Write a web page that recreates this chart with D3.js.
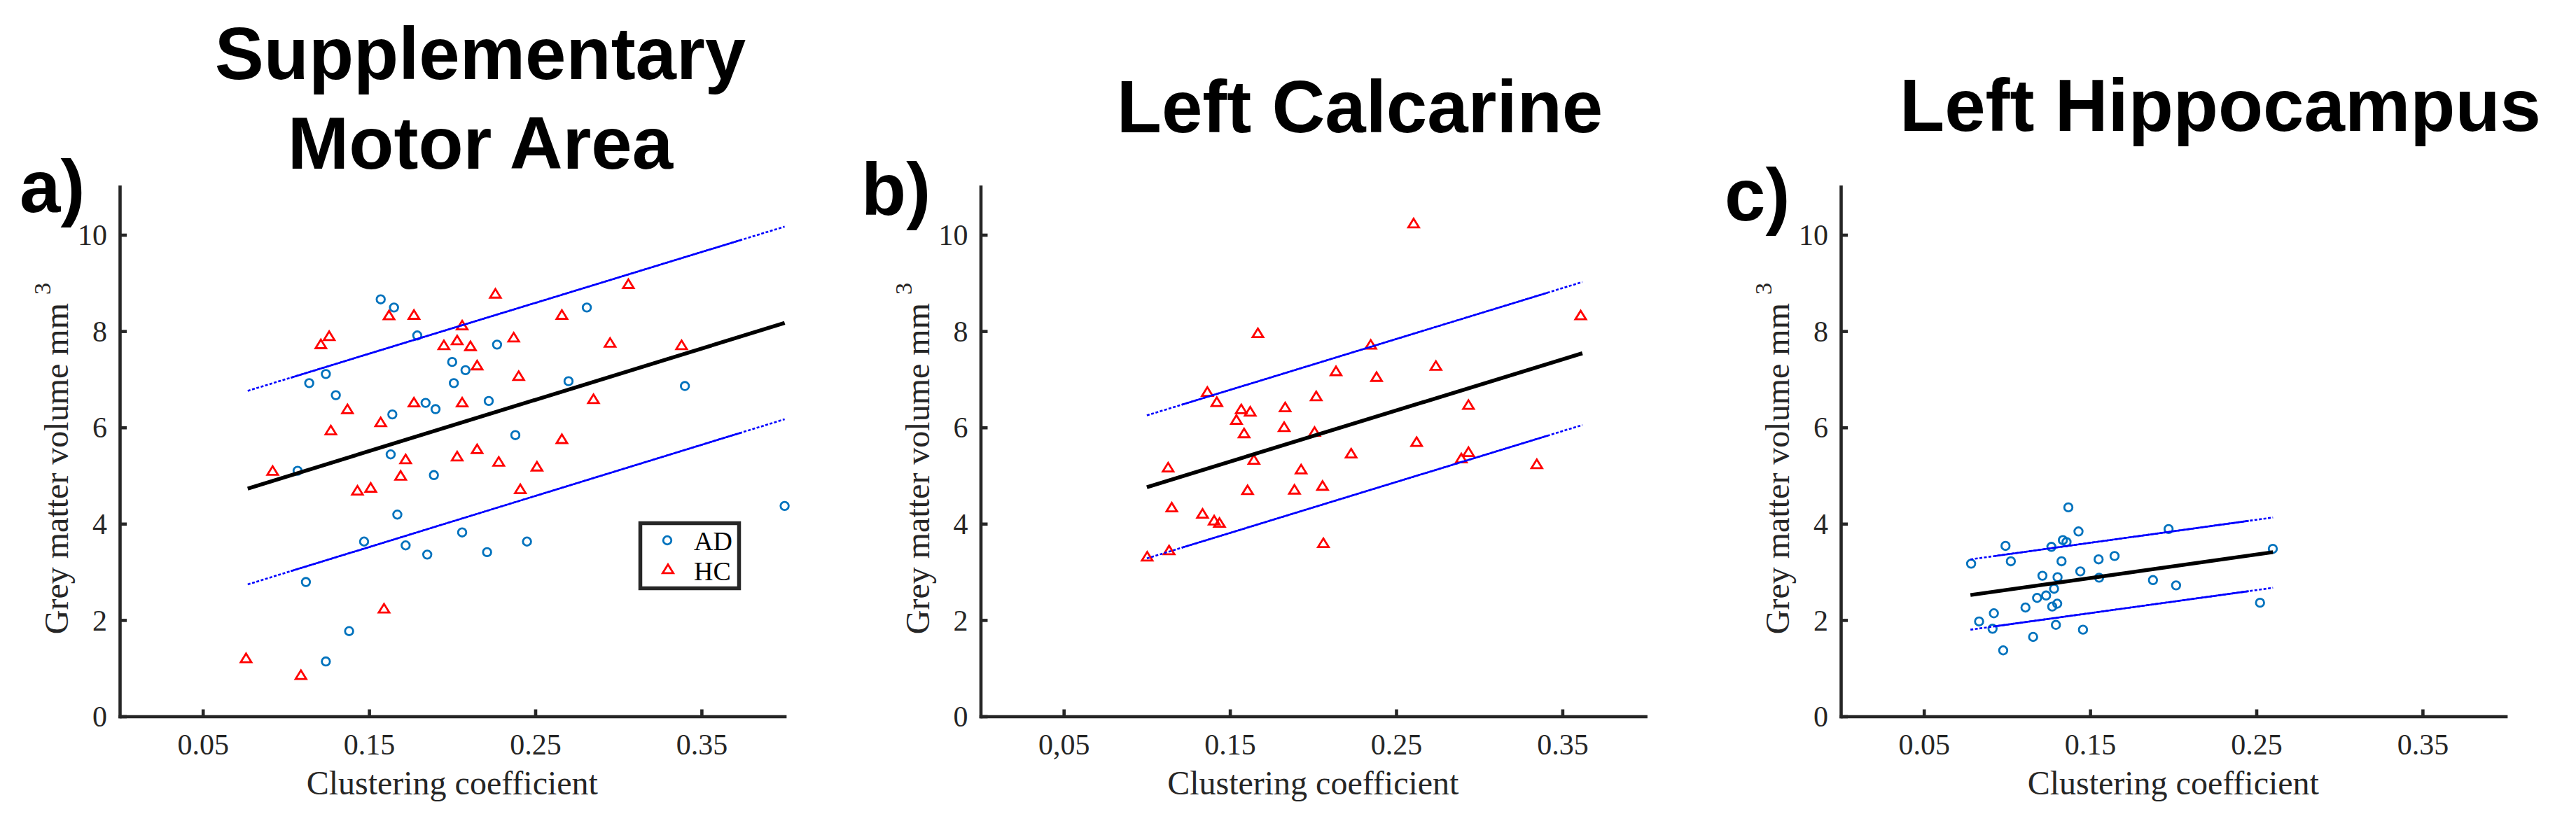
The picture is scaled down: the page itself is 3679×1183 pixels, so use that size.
<!DOCTYPE html>
<html>
<head>
<meta charset="utf-8">
<script src="https://cdn.jsdelivr.net/npm/d3@7"></script>
<style>
  html, body { margin: 0; padding: 0; background: #fff; }
  svg { display: block; }
</style>
</head>
<body>
<svg id="chart"></svg>
<script>
// Axis ticks
const xTicks = [0.05, 0.15, 0.25, 0.35];
const xTickLabelsA = ['0.05', '0.15', '0.25', '0.35'];
const xTickLabelsB = ['0,05', '0.15', '0.25', '0.35'];
const xTickLabelsC = ['0.05', '0.15', '0.25', '0.35'];
const yTicks = [0, 2, 4, 6, 8, 10];

const panelLetters = ['a)', 'b)', 'c)'];
const panelTitles = [['Supplementary', 'Motor Area'], ['Left Calcarine'], ['Left Hippocampus']];
const xLabel = 'Clustering coefficient';
const yLabel = 'Grey matter volume mm';
const legendLabels = ['AD', 'HC'];

// a) Supplementary Motor Area
const smaAD = [
  [0.157, 8.66], [0.165, 8.49], [0.179, 7.91], [0.281, 8.49], [0.227, 7.72],
  [0.200, 7.36], [0.208, 7.19], [0.124, 7.11], [0.114, 6.92], [0.201, 6.92],
  [0.270, 6.96], [0.340, 6.86], [0.130, 6.67], [0.184, 6.51], [0.190, 6.38],
  [0.222, 6.55], [0.164, 6.27], [0.107, 5.10], [0.163, 5.44], [0.238, 5.84],
  [0.189, 5.01], [0.167, 4.19], [0.147, 3.63], [0.172, 3.55], [0.206, 3.82],
  [0.185, 3.36], [0.221, 3.41], [0.245, 3.63], [0.400, 4.37], [0.112, 2.79],
  [0.138, 1.77], [0.124, 1.14]
];
const smaHC = [
  [0.306, 8.98], [0.226, 8.78], [0.162, 8.33], [0.177, 8.34], [0.266, 8.34],
  [0.206, 8.12], [0.126, 7.90], [0.121, 7.73], [0.237, 7.87], [0.195, 7.71],
  [0.203, 7.81], [0.211, 7.69], [0.295, 7.76], [0.338, 7.71], [0.215, 7.29],
  [0.240, 7.07], [0.285, 6.59], [0.177, 6.52], [0.206, 6.52], [0.137, 6.38],
  [0.127, 5.94], [0.157, 6.11], [0.092, 5.10], [0.172, 5.34], [0.169, 5.00],
  [0.143, 4.69], [0.151, 4.75], [0.203, 5.40], [0.215, 5.55], [0.228, 5.29],
  [0.251, 5.19], [0.266, 5.76], [0.241, 4.72], [0.159, 2.24], [0.076, 1.21],
  [0.109, 0.86]
];
const smaFit = [[0.077, 4.73], [0.400, 8.17]];
const smaUpper = [[0.077, 6.76], [0.400, 10.17]];
const smaLower = [[0.077, 2.74], [0.400, 6.17]];

// b) Left Calcarine
const calcHC = [
  [0.2605, 10.24], [0.1668, 7.96], [0.2347, 7.72], [0.2138, 7.17], [0.2382, 7.05],
  [0.2739, 7.28], [0.1364, 6.74], [0.1421, 6.53], [0.1568, 6.38], [0.1622, 6.33],
  [0.1832, 6.42], [0.2019, 6.65], [0.2935, 6.47], [0.1539, 6.16], [0.1585, 5.88],
  [0.1826, 6.01], [0.2009, 5.91], [0.2623, 5.70], [0.2229, 5.46], [0.2892, 5.36],
  [0.2935, 5.49], [0.3346, 5.24], [0.1128, 5.17], [0.1644, 5.33], [0.1928, 5.13],
  [0.1606, 4.70], [0.1888, 4.71], [0.2057, 4.79], [0.1150, 4.34], [0.1335, 4.21],
  [0.1405, 4.07], [0.1437, 4.02], [0.2062, 3.60], [0.1134, 3.45], [0.1002, 3.32],
  [0.3610, 8.33]
];
const calcFit = [[0.100, 4.76], [0.362, 7.54]];
const calcUpper = [[0.100, 6.25], [0.362, 9.02]];
const calcLower = [[0.100, 3.28], [0.362, 6.05]];

// c) Left Hippocampus
const hippAD = [
  [0.1369, 4.34], [0.1430, 3.84], [0.1972, 3.89], [0.0991, 3.54], [0.1267, 3.52],
  [0.1336, 3.66], [0.1358, 3.62], [0.2599, 3.48], [0.0784, 3.17], [0.1023, 3.22],
  [0.1328, 3.22], [0.1551, 3.26], [0.1647, 3.33], [0.1441, 3.01], [0.1213, 2.92],
  [0.1304, 2.89], [0.1554, 2.88], [0.1878, 2.83], [0.2017, 2.72], [0.1283, 2.65],
  [0.1235, 2.51], [0.1181, 2.46], [0.1111, 2.26], [0.1272, 2.28], [0.1302, 2.34],
  [0.2522, 2.36], [0.0921, 2.14], [0.0832, 1.97], [0.0913, 1.82], [0.1294, 1.90],
  [0.1457, 1.80], [0.1157, 1.65], [0.0977, 1.37]
];
const hippFit = [[0.078, 2.52], [0.260, 3.41]];
const hippUpper = [[0.078, 3.26], [0.260, 4.13]];
const hippLower = [[0.078, 1.80], [0.260, 2.67]];

// Layout
const W = 3679, H = 1183;
const axisColor = '#262626';
const adColor = '#0072BD';
const hcColor = '#FF0000';
const bandColor = '#0000FF';
const serif = '"Liberation Serif", "Times New Roman", serif';
const sans = '"Liberation Sans", Arial, sans-serif';

const svg = d3.select('#chart').attr('width', W).attr('height', H);
svg.append('rect').attr('width', W).attr('height', H).attr('fill', '#fff');

const panels = [
  {
    left: 171, letter: panelLetters[0], letterX: 28, letterY: 303,
    title: panelTitles[0], titleX: 686, titleY: [113, 241],
    tickLabels: xTickLabelsA, ad: smaAD, hc: smaHC,
    fit: smaFit, upper: smaUpper, lower: smaLower, legend: true
  },
  {
    left: 1400.5, letter: panelLetters[1], letterX: 1230, letterY: 307,
    title: panelTitles[1], titleX: 1942, titleY: [189],
    tickLabels: xTickLabelsB, ad: [], hc: calcHC,
    fit: calcFit, upper: calcUpper, lower: calcLower, legend: false
  },
  {
    left: 2629, letter: panelLetters[2], letterX: 2463, letterY: 315,
    title: panelTitles[2], titleX: 3171, titleY: [187],
    tickLabels: xTickLabelsC, ad: hippAD, hc: [],
    fit: hippFit, upper: hippUpper, lower: hippLower, legend: false
  }
];

const axisWidth = 949.6;
const yBottom = 1023.5;
const yTop = 266.7;

const trianglePath = 'M0,-6.5L7.6,5.8L-7.6,5.8Z';

panels.forEach(drawPanel);

function drawPanel(p) {
  const x = d3.scaleLinear().domain([0, 0.4]).range([p.left, p.left + axisWidth]);
  const y = d3.scaleLinear().domain([0, 11]).range([yBottom, yTop]);
  const g = svg.append('g');

  // markers
  g.selectAll('.ad')
    .data(p.ad)
    .enter()
    .append('circle')
    .attr('cx', (d) => x(d[0]))
    .attr('cy', (d) => y(d[1]))
    .attr('r', 5.8)
    .attr('fill', 'none')
    .attr('stroke', adColor)
    .attr('stroke-width', 2.8);

  g.selectAll('.hc')
    .data(p.hc)
    .enter()
    .append('path')
    .attr('d', trianglePath)
    .attr('transform', (d) => `translate(${x(d[0])},${y(d[1])})`)
    .attr('fill', 'none')
    .attr('stroke', hcColor)
    .attr('stroke-width', 2.8)
    .attr('stroke-linejoin', 'miter');

  // prediction band lines: solid middle, dotted ends
  [p.upper, p.lower].forEach((seg) => {
    const x0 = seg[0][0], x1 = seg[1][0];
    const y0 = seg[0][1], y1 = seg[1][1];
    const cut = 0.08;
    const xa = x0 + (x1 - x0) * cut, xb = x1 - (x1 - x0) * cut;
    const ya = y0 + (y1 - y0) * cut, yb = y1 - (y1 - y0) * cut;
    g.append('line')
      .attr('x1', x(x0)).attr('y1', y(y0))
      .attr('x2', x(x1)).attr('y2', y(y1))
      .attr('stroke', bandColor)
      .attr('stroke-width', 2.6)
      .attr('stroke-dasharray', '4,2.5');
    g.append('line')
      .attr('x1', x(xa)).attr('y1', y(ya))
      .attr('x2', x(xb)).attr('y2', y(yb))
      .attr('stroke', bandColor)
      .attr('stroke-width', 2.6);
  });

  // regression line
  g.append('line')
    .attr('x1', x(p.fit[0][0])).attr('y1', y(p.fit[0][1]))
    .attr('x2', x(p.fit[1][0])).attr('y2', y(p.fit[1][1]))
    .attr('stroke', '#000')
    .attr('stroke-width', 5.5);

  // axes
  const xAxis = d3.axisBottom(x)
    .tickValues(xTicks)
    .tickSizeInner(-10)
    .tickSizeOuter(0)
    .tickFormat((d, i) => p.tickLabels[i]);
  const gx = g.append('g').attr('transform', `translate(0,${yBottom})`).call(xAxis);

  const yAxis = d3.axisLeft(y)
    .tickValues(yTicks)
    .tickSizeInner(-10)
    .tickSizeOuter(0)
    .tickFormat(d3.format('d'));
  const gy = g.append('g').attr('transform', `translate(${p.left},0)`).call(yAxis);

  [gx, gy].forEach((ax) => {
    ax.select('.domain')
      .attr('stroke', axisColor)
      .attr('stroke-width', 4.6)
      .attr('stroke-linecap', 'square');
    ax.selectAll('.tick line').attr('stroke', axisColor).attr('stroke-width', 4.6);
    ax.selectAll('.tick text')
      .attr('fill', axisColor)
      .attr('font-family', serif)
      .attr('font-size', 42);
  });
  gx.selectAll('.tick text').attr('y', 54).attr('dy', null);
  gy.selectAll('.tick text').attr('x', -18).attr('dy', '0.34em');

  // axis labels
  g.append('text')
    .attr('x', p.left + axisWidth / 2)
    .attr('y', 1135)
    .attr('text-anchor', 'middle')
    .attr('fill', axisColor)
    .attr('font-family', serif)
    .attr('font-size', 48)
    .text(xLabel);

  const yl = g.append('text')
    .attr('transform', `translate(${p.left - 74},${(yBottom + yTop) / 2 + 10}) rotate(-90)`)
    .attr('text-anchor', 'middle')
    .attr('fill', axisColor)
    .attr('font-family', serif)
    .attr('font-size', 48);
  yl.append('tspan').text(yLabel + ' ');
  yl.append('tspan').attr('dy', -25).attr('font-size', 34).text('3');

  // title and panel letter
  p.title.forEach((line, i) => {
    g.append('text')
      .attr('x', p.titleX)
      .attr('y', p.titleY[i])
      .attr('text-anchor', 'middle')
      .attr('fill', '#000')
      .attr('font-family', sans)
      .attr('font-weight', 'bold')
      .attr('font-size', 105)
      .text(line);
  });

  g.append('text')
    .attr('x', p.letterX)
    .attr('y', p.letterY)
    .attr('fill', '#000')
    .attr('font-family', sans)
    .attr('font-weight', 'bold')
    .attr('font-size', 105)
    .text(p.letter);

  if (p.legend) {
    const lg = g.append('g');
    lg.append('rect')
      .attr('x', 914.5).attr('y', 747.5)
      .attr('width', 141).attr('height', 93)
      .attr('fill', '#fff')
      .attr('stroke', axisColor)
      .attr('stroke-width', 5.5);
    lg.append('circle')
      .attr('cx', 953).attr('cy', 772)
      .attr('r', 5.8)
      .attr('fill', 'none')
      .attr('stroke', adColor)
      .attr('stroke-width', 2.8);
    lg.append('path')
      .attr('d', trianglePath)
      .attr('transform', 'translate(954,813)')
      .attr('fill', 'none')
      .attr('stroke', hcColor)
      .attr('stroke-width', 2.8);
    legendLabels.forEach((t, i) => {
      lg.append('text')
        .attr('x', 991)
        .attr('y', 786 + i * 43)
        .attr('fill', '#000')
        .attr('font-family', serif)
        .attr('font-size', 38)
        .text(t);
    });
  }
}
</script>
</body>
</html>
